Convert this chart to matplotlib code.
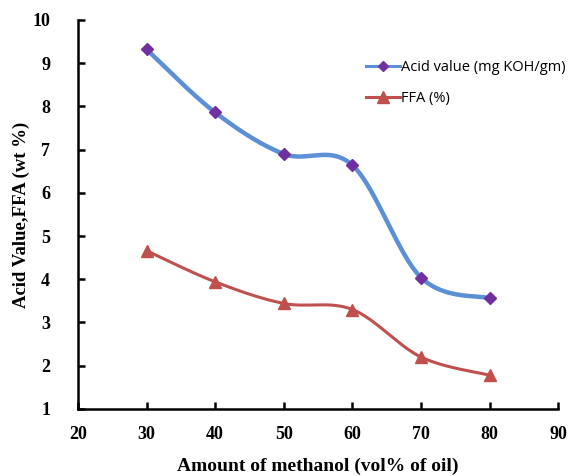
import numpy as np
import matplotlib
matplotlib.use("Agg")
import matplotlib.pyplot as plt
from matplotlib.lines import Line2D

methanol = [30, 40, 50, 60, 70, 80]
acid_value = [9.32, 7.86, 6.9, 6.64, 4.04, 3.56]
ffa = [4.66, 3.94, 3.44, 3.3, 2.2, 1.78]


def smooth(xs, ys, n=40):
    # Excel-style smoothed line: cubic Bezier, control points from neighbours
    p = np.column_stack([xs, ys]).astype(float)
    out = [p[0]]
    for i in range(len(p) - 1):
        p0 = p[i - 1] if i > 0 else p[i]
        p3 = p[i + 2] if i + 2 < len(p) else p[i + 1]
        c1 = p[i] + (p[i + 1] - p0) / 6
        c2 = p[i + 1] - (p3 - p[i]) / 6
        t = np.linspace(0, 1, n)[1:, None]
        seg = ((1 - t) ** 3) * p[i] + 3 * ((1 - t) ** 2) * t * c1 + 3 * (1 - t) * t ** 2 * c2 + t ** 3 * p[i + 1]
        out.extend(seg)
    out = np.array(out)
    return out[:, 0], out[:, 1]


blue = "#5B8FD6"
purple = "#7030A0"
red = "#C0504D"

fig = plt.figure(figsize=(5.69, 4.76), dpi=100)
ax = fig.add_axes([0.137, 0.141, 0.844, 0.817])

sx, sy = smooth(methanol, acid_value)
ax.plot(sx, sy, color=blue, lw=3.2, solid_capstyle="round", zorder=2)
ax.plot(methanol, acid_value, ls="none", marker="D", ms=6, color=purple, zorder=3)

sx, sy = smooth(methanol, ffa)
ax.plot(sx, sy, color=red, lw=2.2, solid_capstyle="round", zorder=2)
ax.plot(methanol, ffa, ls="none", marker="^", ms=9, color=red, zorder=3)

ax.set_xlim(20, 90)
ax.set_ylim(1, 10)
ax.set_xticks(range(20, 91, 10))
ax.set_yticks(range(1, 11))
for s in ["top", "right"]:
    ax.spines[s].set_visible(False)
for s in ["left", "bottom"]:
    ax.spines[s].set_linewidth(1.8)
ax.tick_params(direction="in", length=5, width=1.8)
ax.tick_params(axis="x", pad=12)
ax.tick_params(axis="y", pad=20)

serif = "Liberation Serif"
for lab in ax.get_xticklabels() + ax.get_yticklabels():
    lab.set_fontfamily(serif)
    lab.set_fontweight("bold")
    lab.set_fontsize(13)

ax.set_xlabel("Amount of methanol (vol% of oil)", fontfamily=serif, fontweight="bold",
              fontsize=14, labelpad=11)
ax.set_ylabel("Acid Value,FFA (wt %)", fontfamily=serif, fontweight="bold",
              fontsize=13.5)
ax.yaxis.set_label_coords(-0.1, 0.5)

handles = [
    Line2D([], [], color=blue, lw=2.2, marker="D", ms=5, mfc=purple, mec=purple),
    Line2D([], [], color=red, lw=2.2, marker="^", ms=8, mfc=red, mec=red),
]
ax.legend(handles, ["Acid value (mg KOH/gm)", "FFA (%)"], loc="upper left",
          bbox_to_anchor=(0.585, 0.915), borderpad=0, frameon=False, handlelength=2.3,
          handletextpad=0.1, labelspacing=1.1, prop={"family": "Open Sans", "size": 10.5})

fig.savefig("out.png", dpi=100)
